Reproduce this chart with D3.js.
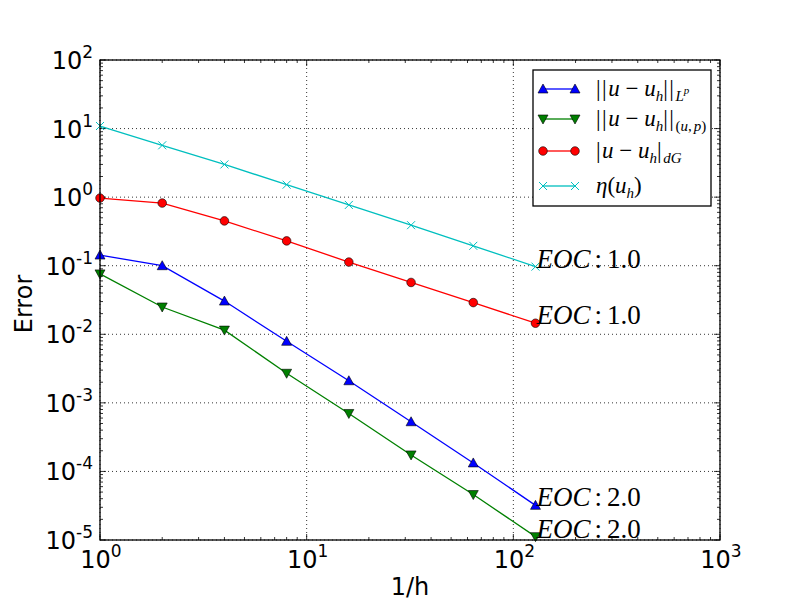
<!DOCTYPE html>
<html>
<head>
<meta charset="utf-8">
<script src="https://cdn.jsdelivr.net/npm/d3@7.9.0/dist/d3.min.js"></script>
<style>
  body { margin: 0; background: #fff; }
  svg { display: block; }
  .tick-label { font-family: "DejaVu Sans", sans-serif; font-size: 24px; }
  .math { font-family: "Liberation Serif", serif; }
</style>
</head>
<body>
<svg id="chart" width="800" height="600"></svg>
<script>
// mesh refinement 1/h
const invH = [1, 2, 4, 8, 16, 32, 64, 128];

// error norms per refinement level
const errLp  = [0.143, 0.1, 0.0305, 0.0079, 0.0021, 0.00053, 0.000133, 0.000032];
const errUP  = [0.076, 0.025, 0.0115, 0.0027, 0.0007, 0.000174, 0.000046, 0.0000112];
const errDG  = [0.97, 0.82, 0.45, 0.23, 0.113, 0.057, 0.029, 0.0145];
const estEta = [10.9, 5.7, 3.0, 1.52, 0.77, 0.39, 0.195, 0.097];

// labels for the convergence rate shown at the last point
const eocText = ['2.0', '2.0', '1.0', '1.0'];

const xTicks = [0, 1, 2, 3];
const yTicks = [-5, -4, -3, -2, -1, 0, 1, 2];

const margin = { left: 100, right: 80, top: 60, bottom: 60 };
const W = 800, H = 600;
const svg = d3.select('#chart');

const x = d3.scaleLog().domain([1, 1000]).range([margin.left, W - margin.right]);
const y = d3.scaleLog().domain([1e-5, 1e2]).range([H - margin.bottom, margin.top]);

const x0 = x.range()[0], x1 = x.range()[1];
const y0 = y.range()[0], y1 = y.range()[1];

// grid
const grid = svg.append('g');
xTicks.forEach(e => {
  const px = x(Math.pow(10, e));
  grid.append('line').attr('x1', px).attr('x2', px).attr('y1', y1).attr('y2', y0)
    .attr('stroke', '#000').attr('stroke-width', 0.8).attr('stroke-dasharray', '1,3');
});
yTicks.forEach(e => {
  const py = y(Math.pow(10, e));
  grid.append('line').attr('x1', x0).attr('x2', x1).attr('y1', py).attr('y2', py)
    .attr('stroke', '#000').attr('stroke-width', 0.8).attr('stroke-dasharray', '1,3');
});

// ticks on all four sides, pointing in
const ticks = svg.append('g').attr('stroke', '#000').attr('stroke-width', 0.8);
function minorList(scale) {
  const out = [];
  const [a, b] = scale.domain();
  for (let e = Math.log10(a); e < Math.log10(b); e++) {
    for (let m = 2; m <= 9; m++) out.push(m * Math.pow(10, e));
  }
  return out;
}
xTicks.forEach(e => {
  const px = x(Math.pow(10, e));
  ticks.append('line').attr('x1', px).attr('x2', px).attr('y1', y0).attr('y2', y0 - 6);
  ticks.append('line').attr('x1', px).attr('x2', px).attr('y1', y1).attr('y2', y1 + 6);
});
minorList(x).forEach(v => {
  const px = x(v);
  ticks.append('line').attr('x1', px).attr('x2', px).attr('y1', y0).attr('y2', y0 - 3);
  ticks.append('line').attr('x1', px).attr('x2', px).attr('y1', y1).attr('y2', y1 + 3);
});
yTicks.forEach(e => {
  const py = y(Math.pow(10, e));
  ticks.append('line').attr('x1', x0).attr('x2', x0 + 6).attr('y1', py).attr('y2', py);
  ticks.append('line').attr('x1', x1).attr('x2', x1 - 6).attr('y1', py).attr('y2', py);
});
minorList(y).forEach(v => {
  const py = y(v);
  ticks.append('line').attr('x1', x0).attr('x2', x0 + 3).attr('y1', py).attr('y2', py);
  ticks.append('line').attr('x1', x1).attr('x2', x1 - 3).attr('y1', py).attr('y2', py);
});

// tick labels 10^e
function powLabel(g, e) {
  g.append('tspan').text('10');
  g.append('tspan').attr('font-size', 17).attr('dy', -11).text(e < 0 ? '-' + (-e) : String(e));
}
xTicks.forEach(e => {
  const t = svg.append('text').attr('class', 'tick-label')
    .attr('x', x(Math.pow(10, e)) + 1).attr('y', 568).attr('text-anchor', 'middle');
  powLabel(t, e);
});
yTicks.forEach(e => {
  const t = svg.append('text').attr('class', 'tick-label')
    .attr('x', x0 - 7).attr('y', y(Math.pow(10, e)) + 9).attr('text-anchor', 'end');
  powLabel(t, e);
});

// axis labels
svg.append('text').attr('class', 'tick-label').attr('x', (x0 + x1) / 2).attr('y', 595)
  .attr('text-anchor', 'middle').text('1/h');
svg.append('text').attr('class', 'tick-label')
  .attr('transform', `translate(32,${(y0 + y1) / 2 + 4}) rotate(-90)`)
  .attr('text-anchor', 'middle').text('Error');

// series
const series = [
  { values: errLp,  color: '#0000ff', marker: 'up' },
  { values: errUP,  color: '#008000', marker: 'down' },
  { values: errDG,  color: '#ff0000', marker: 'circle' },
  { values: estEta, color: '#00bfbf', marker: 'x' }
];

function drawMarker(g, m, color, cx, cy) {
  if (m === 'circle') {
    g.append('circle').attr('cx', cx).attr('cy', cy).attr('r', 4.3)
      .attr('fill', color).attr('stroke', '#000').attr('stroke-width', 0.6);
  } else if (m === 'up' || m === 'down') {
    const s = m === 'up' ? 1 : -1;
    const r = 5;
    const pts = [[cx, cy - s * r], [cx - r, cy + s * r * 0.8], [cx + r, cy + s * r * 0.8]];
    g.append('path').attr('d', 'M' + pts.join('L') + 'Z')
      .attr('fill', color).attr('stroke', '#000').attr('stroke-width', 0.6);
  } else {
    const r = 4;
    g.append('path').attr('d', `M${cx - r},${cy - r}L${cx + r},${cy + r}M${cx - r},${cy + r}L${cx + r},${cy - r}`)
      .attr('stroke', color).attr('stroke-width', 1);
  }
}

const line = d3.line().x(d => x(d[0])).y(d => y(d[1]));
const plot = svg.append('g');
series.forEach(s => {
  const pts = invH.map((h, i) => [h, s.values[i]]);
  plot.append('path').attr('d', line(pts)).attr('fill', 'none')
    .attr('stroke', s.color).attr('stroke-width', 1.3);
  pts.forEach(p => drawMarker(plot, s.marker, s.color, x(p[0]), y(p[1])));
});

// EOC annotations
series.forEach((s, i) => {
  const last = invH.length - 1;
  const t = svg.append('text').attr('class', 'math').attr('font-size', 27)
    .attr('x', x(invH[last]) + 1).attr('y', y(s.values[last]) + 1);
  t.append('tspan').attr('font-style', 'italic').text('EOC');
  t.append('tspan').attr('dx', 4).text(':');
  t.append('tspan').attr('dx', 5).text(eocText[i]);
});

// axes frame
svg.append('rect').attr('x', x0).attr('y', y1).attr('width', x1 - x0).attr('height', y0 - y1)
  .attr('fill', 'none').attr('stroke', '#000').attr('stroke-width', 1.3);

// legend
const lg = svg.append('g');
lg.append('rect').attr('x', 533).attr('y', 70).attr('width', 178).attr('height', 136)
  .attr('fill', '#fff').attr('stroke', '#000').attr('stroke-width', 1.3);
const rowY = [89, 119, 151, 186];
const legendLabels = [
  [['||', 'bar'], ['u', 'i'], [' − ', 'n'], ['u', 'i'], ['h', 'sub'], ['||', 'bar'], ['L', 'sub'], ['p', 'subsup']],
  [['||', 'bar'], ['u', 'i'], [' − ', 'n'], ['u', 'i'], ['h', 'sub'], ['||', 'bar'], ['(', 'subn'], ['u', 'sub'], [',', 'subn'], ['p', 'sub'], [')', 'subn']],
  [['|', 'bar'], ['u', 'i'], [' − ', 'n'], ['u', 'i'], ['h', 'sub'], ['|', 'bar'], ['dG', 'sub']],
  [['η', 'i'], ['(', 'n'], ['u', 'i'], ['h', 'sub'], [')', 'n']]
];
series.forEach((s, i) => {
  const ry = rowY[i];
  lg.append('line').attr('x1', 543).attr('x2', 575).attr('y1', ry).attr('y2', ry)
    .attr('stroke', s.color).attr('stroke-width', 1.3);
  drawMarker(lg, s.marker, s.color, 543, ry);
  drawMarker(lg, s.marker, s.color, 575, ry);

  const t = lg.append('text').attr('class', 'math').attr('font-size', 23)
    .attr('x', 596).attr('y', ry + 7);
  let shift = 0;
  legendLabels[i].forEach(([str, kind]) => {
    const sp = t.append('tspan').text(str);
    let target = 0;
    if (kind === 'i') sp.attr('font-style', 'italic');
    if (kind === 'bar') sp.attr('letter-spacing', 1.5);
    if (kind === 'sub') {
      target = 5; sp.attr('font-style', 'italic').attr('font-size', 15);
    }
    if (kind === 'subn') {
      target = 5; sp.attr('font-size', 15);
    }
    if (kind === 'subsup') {
      target = -2; sp.attr('font-style', 'italic').attr('font-size', 11);
    }
    if (str === ',') sp.attr('letter-spacing', 2);
    sp.attr('dy', target - shift);
    shift = target;
  });
});
</script>
</body>
</html>
